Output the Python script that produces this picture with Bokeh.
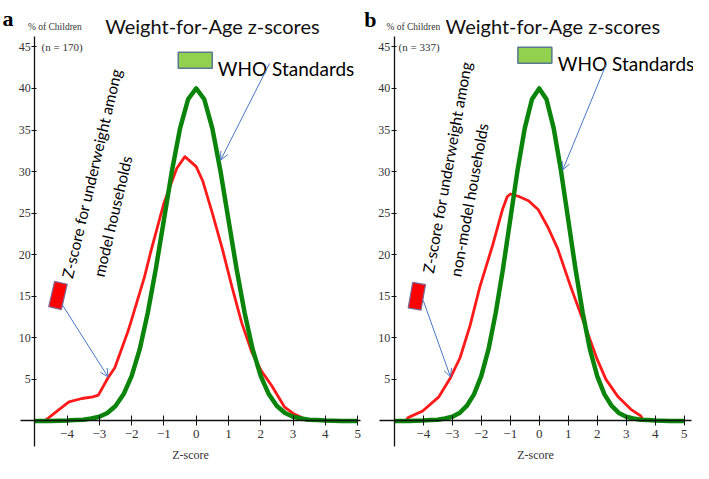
from bokeh.plotting import figure
from bokeh.models import Range1d, FixedTicker, Label, Arrow, OpenHead
from bokeh.layouts import row
from bokeh.embed import file_html
from bokeh.resources import INLINE

# ---- data ----
who_z = [-5.0, -4.5, -4.0, -3.75, -3.5, -3.25, -3.0, -2.75, -2.5, -2.25, -2.0, -1.75, -1.5,
         -1.25, -1.0, -0.75, -0.5, -0.25, 0.0, 0.25, 0.5, 0.75, 1.0, 1.25, 1.5, 1.75, 2.0,
         2.25, 2.5, 2.75, 3.0, 3.25, 3.5, 3.75, 4.0, 4.5, 5.0]
who_pct = [0.0, 0.0, 0.05, 0.1, 0.15, 0.3, 0.5, 0.95, 1.8, 3.2, 5.4, 8.6, 13.0,
           18.3, 24.2, 30.1, 35.2, 38.7, 40.0, 38.7, 35.2, 30.1, 24.2, 18.3, 13.0, 8.6, 5.4,
           3.2, 1.8, 0.95, 0.5, 0.3, 0.15, 0.1, 0.05, 0.0, 0.0]

model_z = [-4.7, -4.58, -4.3, -3.94, -3.54, -3.2, -3.03, -2.73, -2.52, -2.12, -2.03, -1.61,
           -1.41, -1.0, -0.82, -0.6, -0.35, 0.0, 0.2, 0.5, 0.81, 1.11, 1.41, 1.72, 2.02,
           2.33, 2.73, 3.0, 3.33, 3.45]
model_pct = [0.0, 0.35, 1.2, 2.3, 2.7, 2.9, 3.1, 5.2, 6.4, 10.7, 11.8, 17.2,
             20.3, 26.2, 28.1, 30.4, 31.8, 30.6, 28.9, 25.0, 20.7, 16.1, 11.8, 8.3, 6.0,
             4.3, 1.7, 0.9, 0.3, 0.0]

nonmodel_z = [-4.6, -4.52, -4.02, -3.46, -3.06, -2.73, -2.39, -2.05, -1.61, -1.27, -1.1,
              -0.99, -0.7, -0.37, -0.03, 0.3, 0.64, 1.09, 1.54, 2.0, 2.3, 2.72, 3.16, 3.5, 3.6]
nonmodel_pct = [0.0, 0.4, 1.2, 2.9, 5.2, 7.6, 11.4, 16.1, 21.1, 25.4, 27.0,
                27.3, 27.0, 26.5, 25.4, 23.3, 20.7, 16.1, 11.8, 7.4, 5.0, 2.9, 1.4, 0.6, 0.0]

x_ticks_a = [-4, -3, -2, -1, 0, 1, 2, 3, 4, 5]
x_ticks_b = [-4, -3, -2, -1, 0, 1, 2, 3, 4, 5]
y_ticks = [5, 10, 15, 20, 25, 30, 35, 40, 45]

TITLE = "Weight-for-Age z-scores"
LEGEND = "WHO Standards"

RED = "#ff1a1a"
GREEN = "#0a840a"
BLUE = "#4a76c0"
SERIF = "Liberation Serif"
SANS = "Lato"


def lab(p, xy, text, font, size, color="#111111", style="normal", angle=0):
    p.add_layout(Label(x=xy[0], y=xy[1], text=text, text_font=font, text_font_size=size,
                       text_font_style=style, text_color=color, text_baseline="alphabetic",
                       text_align="left", angle=angle, angle_units="deg"))


def make_panel(width, xr, letter, n_label, z, pct, ticks, xbounds, ann2, geo):
    p = figure(width=width, height=463, x_range=Range1d(*xr), y_range=Range1d(-5.12, 50.58),
               toolbar_location=None, output_backend="svg", min_border=0,
               min_border_left=0, min_border_right=0, min_border_top=0, min_border_bottom=0,
               outline_line_color=None, title=None)
    p.xgrid.visible = False
    p.ygrid.visible = False

    xa = p.xaxis[0]
    xa.fixed_location = 0
    xa.bounds = xbounds
    xa.ticker = FixedTicker(ticks=ticks)
    xa.minor_tick_line_color = None
    xa.major_tick_in = 5
    xa.major_tick_out = 5
    xa.axis_line_color = "#111111"
    xa.major_tick_line_color = "#111111"
    xa.axis_line_width = 1.3
    xa.major_label_text_font = SERIF
    xa.major_label_text_font_size = "13px"
    xa.major_label_text_color = "#333333"
    xa.major_label_standoff = 4
    xa.axis_label = "Z-score"
    xa.axis_label_text_font = SERIF
    xa.axis_label_text_font_style = "normal"
    xa.axis_label_text_font_size = "12px"
    xa.axis_label_text_color = "#333333"
    xa.axis_label_standoff = 7

    ya = p.yaxis[0]
    ya.fixed_location = -5
    ya.bounds = (-3.1, 46.2)
    ya.ticker = FixedTicker(ticks=y_ticks)
    ya.minor_tick_line_color = None
    ya.major_tick_in = 2
    ya.major_tick_out = 3
    ya.axis_line_color = "#111111"
    ya.major_tick_line_color = "#111111"
    ya.axis_line_width = 1.3
    ya.major_label_text_font = SERIF
    ya.major_label_text_font_size = "12px"
    ya.major_label_text_color = "#333333"
    ya.major_label_standoff = 1

    p.line(z, pct, line_color=RED, line_width=2.8, line_join="round")
    p.line(who_z, who_pct, line_color=GREEN, line_width=4.5, line_join="round")

    lab(p, geo["letter"], letter, SERIF, "22px", color="#000000", style="bold")
    lab(p, geo["pct"], "% of Children", SERIF, "9.5px", color="#333333")
    lab(p, geo["n"], n_label, SERIF, "11px", color="#333333")
    lab(p, geo["title"], TITLE, SANS, "20px", color="#111111")

    # WHO legend box
    p.rect(x=[geo["box"][0]], y=[geo["box"][1]], width=34, height=16, width_units="screen",
           height_units="screen", fill_color="#92d050", line_color="#5a7890", line_width=1.5)
    lab(p, geo["who"], LEGEND, SANS, "19px", color="#000000")
    p.add_layout(Arrow(end=OpenHead(size=8, line_color=BLUE, line_width=1),
                       x_start=geo["who_arrow"][0], y_start=geo["who_arrow"][1],
                       x_end=geo["who_arrow"][2], y_end=geo["who_arrow"][3],
                       line_color=BLUE, line_width=1))
    # red callout
    p.rect(x=[geo["red"][0]], y=[geo["red"][1]], width=13, height=26, width_units="screen",
           height_units="screen", angle=geo["red"][2], angle_units="deg",
           fill_color="#ff0000", line_color="#7a6a9a", line_width=1.2)
    p.add_layout(Arrow(end=OpenHead(size=8, line_color=BLUE, line_width=1),
                       x_start=geo["red_arrow"][0], y_start=geo["red_arrow"][1],
                       x_end=geo["red_arrow"][2], y_end=geo["red_arrow"][3],
                       line_color=BLUE, line_width=1))
    lab(p, geo["l1"], "Z-score for underweight among", SANS, "15.5px", color="#000000",
        angle=geo["ang"])
    lab(p, geo["l2"], ann2, SANS, "15.5px", color="#000000", angle=geo["ang"])
    return p


geo_a = dict(letter=(-6.0, 48.4), pct=(-5.21, 47.4), n=(-4.79, 45.0), title=(-2.82, 47.5),
             box=(-0.03, 43.4), who=(0.67, 42.4), who_arrow=(2.27, 43.0, 0.76, 31.4),
             red=(-4.28, 15.1, -13), red_arrow=(-4.15, 14.0, -2.73, 5.3),
             l1=(-4.0, 17.2), l2=(-3.03, 17.4), ang=76.7)
geo_b = dict(letter=(-6.03, 48.3), pct=(-5.27, 47.4), n=(-4.85, 45.0), title=(-3.23, 47.5),
             box=(-0.15, 44.0), who=(0.64, 43.0), who_arrow=(2.32, 43.0, 0.81, 30.2),
             red=(-4.22, 15.0, -10), red_arrow=(-4.0, 14.5, -3.06, 5.3),
             l1=(-3.84, 17.8), l2=(-2.9, 17.4), ang=79.7)

pa = make_panel(362, (-6.06, 5.15), "a", "(n = 170)", model_z, model_pct, x_ticks_a,
                (-5.45, 5.1), "model households", geo_a)
pb = make_panel(331, (-6.094, 5.32), "b", "(n = 337)", nonmodel_z, nonmodel_pct, x_ticks_b,
                (-5.52, 5.25), "non-model households", geo_b)

layout = row(pa, pb, spacing=0)
open("out.html", "w").write(file_html(layout, INLINE))
